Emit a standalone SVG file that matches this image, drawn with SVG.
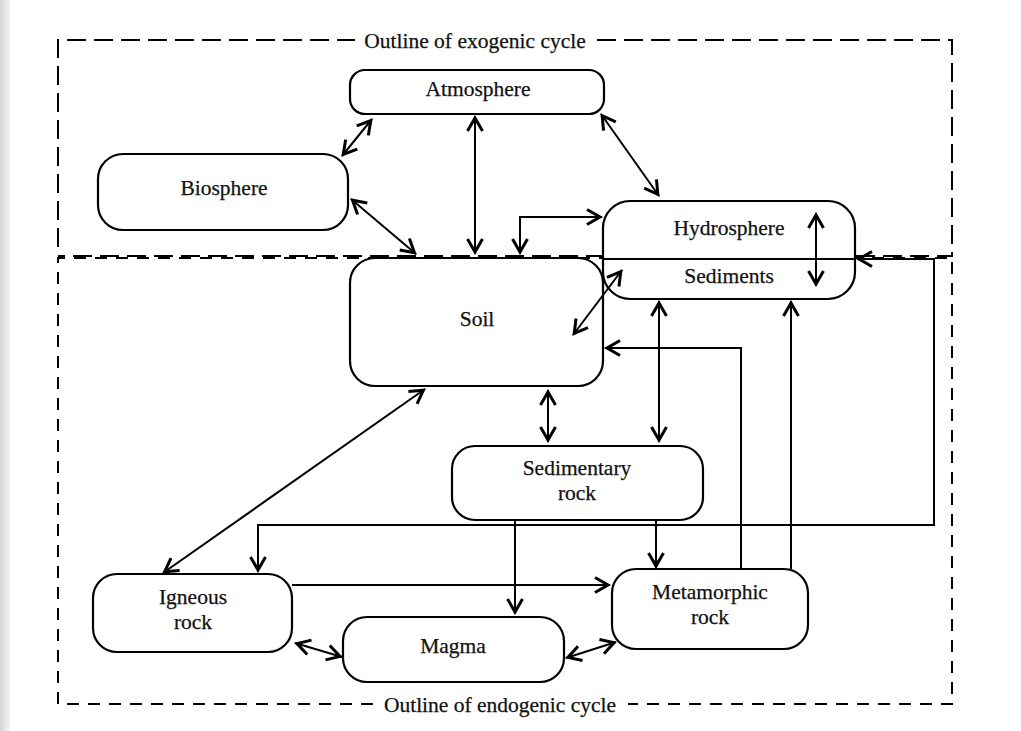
<svg xmlns="http://www.w3.org/2000/svg" width="1021" height="731" viewBox="0 0 1021 731">
  <defs>
    <linearGradient id="edge" x1="0" y1="0" x2="1" y2="0">
      <stop offset="0" stop-color="#d4d4d4"/>
      <stop offset="1" stop-color="#f4f4f4"/>
    </linearGradient>
    <marker id="ah" viewBox="-15 -10 20 20" refX="2" refY="0" markerWidth="20" markerHeight="20" markerUnits="userSpaceOnUse" orient="auto-start-reverse">
      <path d="M-13,-7.5 L0,0 L-13,7.5" fill="none" stroke="#000" stroke-width="3"/>
    </marker>
    <style>
      .box { fill: #fff; stroke: #000; stroke-width: 2.2; }
      .lbl { font-family: "Liberation Serif", "Times New Roman", serif; font-size: 21.5px; fill: #111; text-anchor: middle; stroke: #111; stroke-width: 0.25; }
      .c { fill: none; stroke: #000; stroke-width: 2; }
      .two { marker-start: url(#ah); marker-end: url(#ah); }
      .one { marker-end: url(#ah); }
      .exo { fill: none; stroke: #000; stroke-width: 2; stroke-dasharray: 19 8; }
      .endo { fill: none; stroke: #000; stroke-width: 2; stroke-dasharray: 12 9; }
    </style>
  </defs>
  <rect x="0" y="0" width="1021" height="731" fill="#fff"/>
  <rect x="0" y="0" width="10" height="731" fill="url(#edge)"/>

  <g id="exogenic-outline">
    <path class="exo" d="M58,247 V40 H355"/>
    <path class="exo" d="M597,40 H952 V256 H58"/>
    <text class="lbl" x="475" y="48">Outline of exogenic cycle</text>
  </g>
  <g id="endogenic-outline">
    <path class="endo" d="M373,704 H58 V258 H952 V704 H628"/>
    <text class="lbl" x="500" y="712">Outline of endogenic cycle</text>
  </g>

  <g id="atmosphere">
    <rect class="box" x="350" y="70" width="254" height="44" rx="15"/>
    <text class="lbl" x="478" y="96">Atmosphere</text>
  </g>
  <g id="biosphere">
    <rect class="box" x="98" y="154" width="250" height="76" rx="25"/>
    <text class="lbl" x="224" y="195">Biosphere</text>
  </g>
  <g id="hydrosphere-sediments">
    <rect class="box" x="603" y="201" width="252" height="98" rx="27"/>
    <line x1="603" y1="259" x2="855" y2="259" stroke="#000" stroke-width="2"/>
    <text class="lbl" x="729" y="235">Hydrosphere</text>
    <text class="lbl" x="729" y="283">Sediments</text>
  </g>
  <g id="soil">
    <rect class="box" x="350" y="258" width="253" height="128" rx="25"/>
    <text class="lbl" x="477" y="326">Soil</text>
  </g>
  <g id="sedimentary-rock">
    <rect class="box" x="452" y="446" width="251" height="74" rx="23"/>
    <text class="lbl" x="577" y="475">Sedimentary</text>
    <text class="lbl" x="577" y="500">rock</text>
  </g>
  <g id="igneous-rock">
    <rect class="box" x="93" y="574" width="199" height="78" rx="24"/>
    <text class="lbl" x="193" y="604">Igneous</text>
    <text class="lbl" x="193" y="629">rock</text>
  </g>
  <g id="magma">
    <rect class="box" x="343" y="617" width="221" height="65" rx="24"/>
    <text class="lbl" x="453" y="653">Magma</text>
  </g>
  <g id="metamorphic-rock">
    <rect class="box" x="612" y="569" width="196" height="80" rx="24"/>
    <text class="lbl" x="710" y="599">Metamorphic</text>
    <text class="lbl" x="710" y="624">rock</text>
  </g>

  <g id="connectors">
    <line class="c two" x1="342" y1="156" x2="372" y2="119"/>
    <line class="c two" x1="475" y1="116" x2="475" y2="254"/>
    <line class="c two" x1="601" y1="114" x2="659" y2="196"/>
    <line class="c two" x1="351" y1="199" x2="416" y2="254"/>
    <polyline class="c two" points="520,254 520,217 602,217"/>
    <line class="c two" x1="816" y1="213" x2="816" y2="286"/>
    <line class="c two" x1="573" y1="335" x2="622" y2="270"/>
    <line class="c two" x1="659" y1="301" x2="659" y2="442"/>
    <line class="c two" x1="548" y1="390" x2="548" y2="442"/>
    <polyline class="c one" points="741,569 741,348 605,348"/>
    <line class="c one" x1="791" y1="569" x2="791" y2="301"/>
    <polyline class="c two" points="857,259 934,259 934,525 258,525 258,572"/>
    <line class="c two" x1="425" y1="389" x2="163" y2="573"/>
    <line class="c one" x1="292" y1="585" x2="610" y2="585"/>
    <line class="c one" x1="515" y1="520" x2="515" y2="614"/>
    <line class="c one" x1="656" y1="520" x2="656" y2="568"/>
    <line class="c two" x1="295" y1="643" x2="342" y2="657"/>
    <line class="c two" x1="566" y1="658" x2="616" y2="642"/>
  </g>
</svg>
